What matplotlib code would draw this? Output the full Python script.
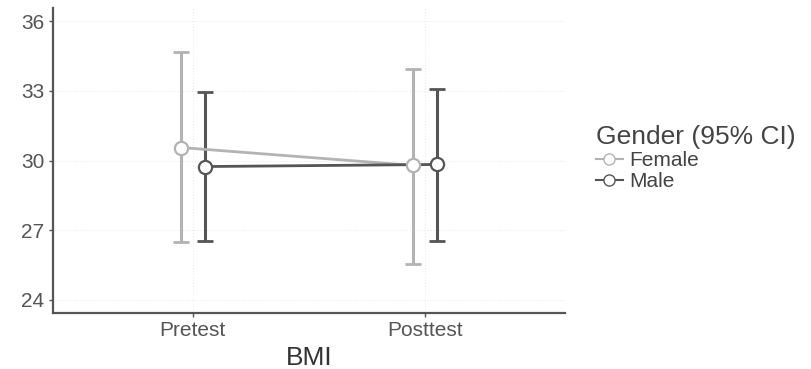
import numpy as np
import matplotlib.pyplot as plt
from matplotlib.lines import Line2D

plt.rcParams['font.family'] = ['Liberation Sans', 'DejaVu Sans']

tests = ['Pretest', 'Posttest']
female_mean = [30.56, 29.79]
female_lo = [26.48, 25.54]
female_hi = [34.68, 33.95]
male_mean = [29.74, 29.83]
male_lo = [26.52, 26.55]
male_hi = [32.96, 33.08]

female_col = '#b3b3b3'
male_col = '#555555'

fig = plt.figure(figsize=(8.12, 3.69), dpi=100)
ax = fig.add_axes([0.065, 0.152, 0.631, 0.826])

x = np.arange(1, len(tests) + 1)
dodge = 0.052

for xs, m, lo, hi, col, lab in [
        (x - dodge, female_mean, female_lo, female_hi, female_col, 'Female'),
        (x + dodge, male_mean, male_lo, male_hi, male_col, 'Male')]:
    m = np.array(m)
    yerr = [m - np.array(lo), np.array(hi) - m]
    ax.errorbar(xs, m, yerr=yerr, fmt='none', ecolor=col, elinewidth=2.2,
                capsize=6, capthick=2, zorder=2)
    ax.plot(xs, m, color=col, lw=2, zorder=3)
    ax.plot(xs, m, 'o', ms=9.5, mfc='white', mec=col, mew=1.6, zorder=4)

ax.set_xlim(0.397, 2.603)
ax.set_ylim(23.44, 36.56)
ax.set_xticks(x)
ax.set_xticklabels(tests)
ax.set_yticks([24, 27, 30, 33, 36])
ax.set_xlabel('BMI', fontsize=19, color='#333333', labelpad=4)

for s in ['top', 'right']:
    ax.spines[s].set_visible(False)
for s in ['left', 'bottom']:
    ax.spines[s].set_color('#555555')
    ax.spines[s].set_linewidth(1.6)
ax.tick_params(colors='#555555', labelsize=15, length=3, width=1, pad=3)
ax.tick_params(labelcolor='#555555')
ax.grid(color='#ececec', linestyle=':', lw=0.8)
ax.set_axisbelow(True)

handles = [Line2D([0], [0], color=female_col, lw=1.5, marker='o', ms=8,
                  mfc='white', mec=female_col),
           Line2D([0], [0], color=male_col, lw=1.5, marker='o', ms=8,
                  mfc='white', mec=male_col)]
leg = fig.legend(handles, ['Female', 'Male'], title='Gender (95% CI)',
                 loc='upper left', bbox_to_anchor=(0.721, 0.69),
                 frameon=False, fontsize=15, title_fontsize=19,
                 handlelength=1.3, handletextpad=0.3, labelspacing=0.1,
                 borderpad=0)
leg._legend_box.align = 'left'
for t in leg.get_texts():
    t.set_color('#444444')
leg.get_title().set_color('#444444')

fig.savefig('out.png', dpi=100)
